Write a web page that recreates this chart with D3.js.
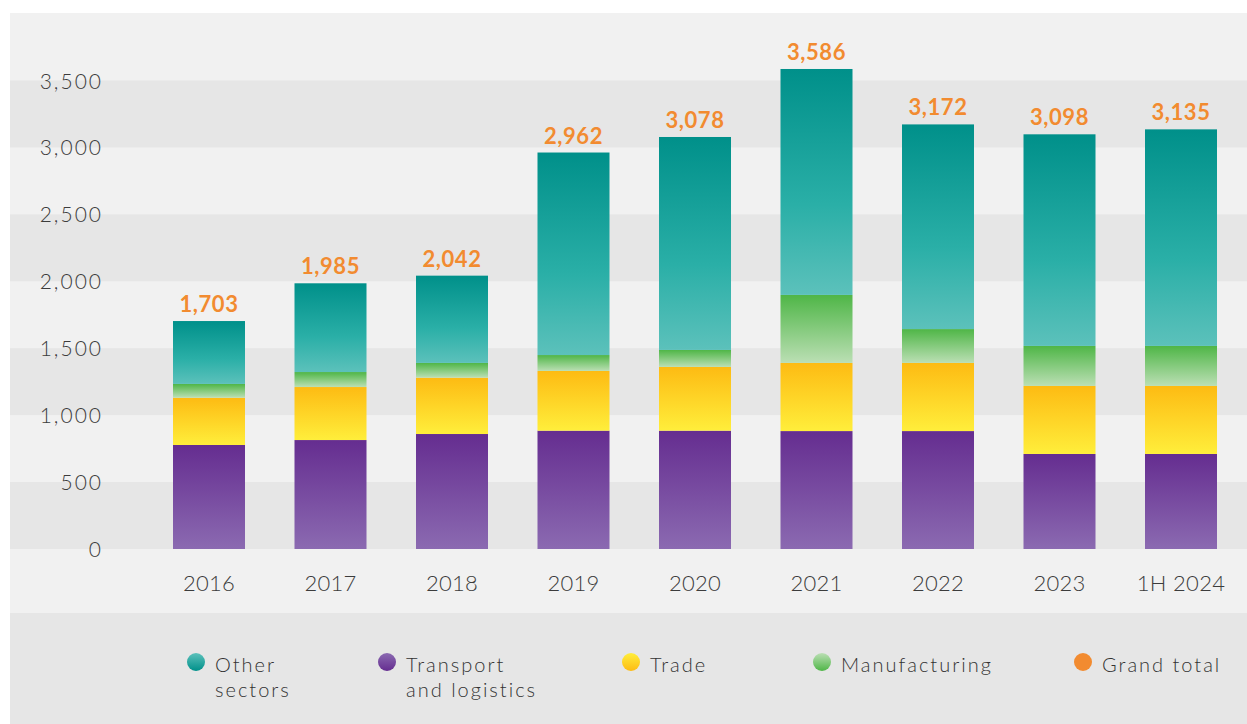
<!DOCTYPE html>
<html>
<head>
<meta charset="utf-8">
<script src="https://cdn.jsdelivr.net/npm/d3@7"></script>
<style>
  body { margin: 0; background: #ffffff; }
  svg { display: block; }
  .tick text { font-family: Lato, "Open Sans", sans-serif; }
</style>
</head>
<body>
<svg id="chart" width="1247" height="724"></svg>
<script>
// Registered companies by sector, stacked per year
const years = ["2016", "2017", "2018", "2019", "2020", "2021", "2022", "2023", "1H 2024"];
const transport     = [777, 814, 859, 884, 884, 881, 881, 710, 710];
const trade         = [353, 396, 421, 446, 476, 509, 509, 508, 508];
const manufacturing = [103, 112, 110, 119, 127, 508, 253, 299, 299];
const otherSectors  = [470, 663, 652, 1513, 1591, 1688, 1529, 1581, 1618];
const grandTotal    = [1703, 1985, 2042, 2962, 3078, 3586, 3172, 3098, 3135];
const yTicks = [0, 500, 1000, 1500, 2000, 2500, 3000, 3500];

const series = [
  { key: "transport",     values: transport,     stops: ["#652d90", "#8b6ab1"] },
  { key: "trade",         values: trade,         stops: ["#fdbb13", "#ffee3b"] },
  { key: "manufacturing", values: manufacturing, stops: ["#4fb647", "#bbdfb4"] },
  { key: "other",         values: otherSectors,  stops: ["#00908a", "#2aafa7", "#5cc1bb"] }
];

const W = 1247, H = 724;
const svg = d3.select("#chart");
const defs = svg.append("defs");

// vertical gradients for bar segments (dark on top) and legend dots (light on top)
series.forEach(s => {
  const g = defs.append("linearGradient").attr("id", "grad-" + s.key)
    .attr("x1", 0).attr("y1", 0).attr("x2", 0).attr("y2", 1);
  s.stops.forEach((c, i) => g.append("stop")
    .attr("offset", s.stops.length === 3 ? [0, 0.6, 1][i] : i).attr("stop-color", c));
  const lg = defs.append("linearGradient").attr("id", "legend-" + s.key)
    .attr("x1", 0).attr("y1", 0).attr("x2", 0).attr("y2", 1);
  const rev = [s.stops[s.stops.length - 1], s.stops[0]];
  rev.forEach((c, i) => lg.append("stop").attr("offset", i).attr("stop-color", c));
});

const x = d3.scaleBand()
  .domain(years)
  .range([148.25, 1241.75])
  .paddingInner(0.4074)
  .paddingOuter(0.2037);

const y = d3.scaleLinear()
  .domain([0, 3500])
  .range([549, 80.5]);

// panel backgrounds
svg.append("rect").attr("x", 10).attr("y", 13).attr("width", W - 10).attr("height", 600).attr("fill", "#f1f1f1");
svg.append("rect").attr("x", 10).attr("y", 613).attr("width", W - 10).attr("height", H - 613).attr("fill", "#e6e6e6");

// alternating horizontal bands between ticks
const bandPairs = d3.pairs(yTicks).filter((d, i) => i % 2 === 0);
svg.append("g").selectAll("rect").data(bandPairs).join("rect")
  .attr("x", 10).attr("width", W - 10)
  .attr("y", d => y(d[1]))
  .attr("height", d => y(d[0]) - y(d[1]))
  .attr("fill", "#e6e6e6");

// stacked bars
const rows = years.map((yr, i) => {
  const r = { year: yr };
  series.forEach(s => r[s.key] = s.values[i]);
  return r;
});
const stack = d3.stack().keys(series.map(s => s.key));
const stacked = stack(rows);

svg.append("g").selectAll("g").data(stacked).join("g")
  .attr("fill", d => "url(#grad-" + d.key + ")")
  .selectAll("rect").data(d => d).join("rect")
  .attr("x", d => x(d.data.year))
  .attr("width", x.bandwidth())
  .attr("y", d => y(d[1]))
  .attr("height", d => y(d[0]) - y(d[1]));

// grand total labels
svg.append("g").selectAll("text").data(years).join("text")
  .attr("x", d => x(d) + x.bandwidth() / 2)
  .attr("y", (d, i) => y(grandTotal[i]) - 9)
  .attr("text-anchor", "middle")
  .attr("fill", "#f28b30")
  .attr("font-family", "Lato, sans-serif")
  .attr("font-weight", 700)
  .attr("font-size", 22)
  .attr("letter-spacing", 0.6)
  .text((d, i) => d3.format(",")(grandTotal[i]));

// y axis
const yAxis = svg.append("g")
  .attr("transform", "translate(103,0)")
  .call(d3.axisLeft(y).tickValues(yTicks).tickFormat(d3.format(",")).tickSize(0).tickPadding(0));
yAxis.select(".domain").remove();
yAxis.selectAll("text")
  .attr("fill", "#3c3c3c")
  .attr("font-size", 21)
  .attr("font-weight", 300)
  .attr("letter-spacing", 2)
  .attr("dy", "0.36em");

// x axis
const xAxis = svg.append("g")
  .attr("transform", "translate(0,549)")
  .call(d3.axisBottom(x).tickSize(0).tickPadding(26));
xAxis.select(".domain").remove();
xAxis.selectAll("text")
  .attr("fill", "#3c3c3c")
  .attr("font-size", 22)
  .attr("font-weight", 300)
  .attr("letter-spacing", 0.3);

// legend
const legendItems = [
  { name: ["Other", "sectors"], fill: "url(#legend-other)", cx: 196 },
  { name: ["Transport", "and logistics"], fill: "url(#legend-transport)", cx: 387 },
  { name: ["Trade"], fill: "url(#legend-trade)", cx: 631 },
  { name: ["Manufacturing"], fill: "url(#legend-manufacturing)", cx: 822 },
  { name: ["Grand total"], fill: "#f28b30", cx: 1083 }
];
const lg = svg.append("g").selectAll("g").data(legendItems).join("g")
  .attr("transform", d => `translate(${d.cx},662)`);
lg.append("circle").attr("r", 9).attr("fill", d => d.fill);
lg.append("text")
  .attr("x", 19)
  .attr("font-family", "Lato, sans-serif")
  .attr("font-weight", 300)
  .attr("font-size", 20)
  .attr("letter-spacing", 2)
  .attr("fill", "#333")
  .selectAll("tspan").data(d => d.name).join("tspan")
  .attr("x", 19)
  .attr("y", (d, i) => 10 + i * 25)
  .text(d => d);
</script>
</body>
</html>
